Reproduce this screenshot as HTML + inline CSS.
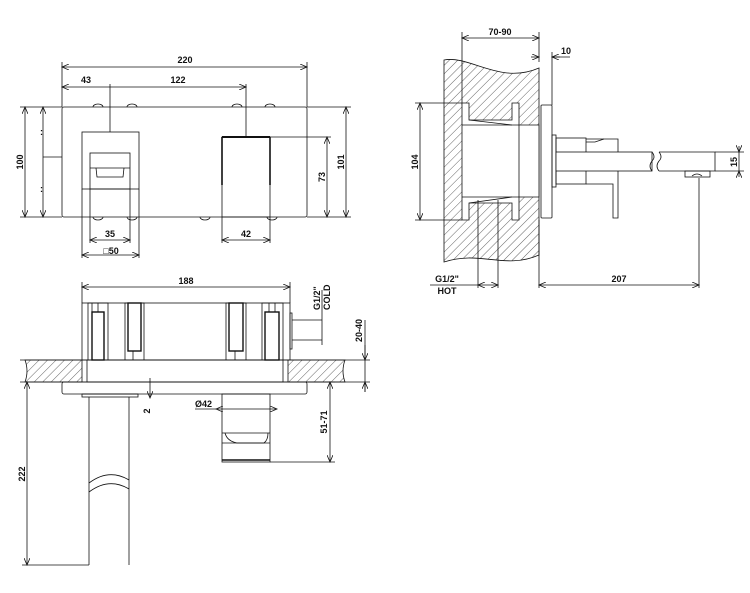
<!DOCTYPE html>
<html><head><style>
html,body{margin:0;padding:0;background:#fff;}
svg{display:block;}
text{font-family:"Liberation Sans",sans-serif;font-weight:bold;font-size:9px;fill:#111;}
</style></head><body>
<svg width="750" height="593" viewBox="0 0 750 593" xmlns="http://www.w3.org/2000/svg">
<defs>
<pattern id="h" width="6" height="6" patternUnits="userSpaceOnUse" patternTransform="rotate(45)">
<line x1="0" y1="0" x2="0" y2="6" stroke="#222" stroke-width="0.7"/>
</pattern>
<marker id="a" markerWidth="8" markerHeight="6" refX="7" refY="3" orient="auto-start-reverse" markerUnits="userSpaceOnUse">
<path d="M0,0 L7,3 L0,6" fill="none" stroke="#111" stroke-width="0.8"/>
</marker>
</defs>
<g fill="none" stroke="#111" stroke-width="0.8">
<!-- ===== TOP LEFT FRONT VIEW ===== -->
<line x1="62" y1="67" x2="307" y2="67" marker-start="url(#a)" marker-end="url(#a)"/>
<line x1="62" y1="62" x2="62" y2="107"/><line x1="307" y1="62" x2="307" y2="107"/>
<line x1="62" y1="87" x2="246" y2="87" marker-start="url(#a)" marker-end="url(#a)"/>
<line x1="110" y1="84" x2="110" y2="132"/><line x1="246" y1="84" x2="246" y2="137"/>
<rect x="62" y="107" width="245" height="110" rx="2"/>
<path d="M93,107 a5,3 0 0 1 10,0 M127,107 a5,3 0 0 1 10,0 M232,107 a5,3 0 0 1 10,0 M265,107 a5,3 0 0 1 10,0"/>
<path d="M93,217 a5,3 0 0 0 10,0 M127,217 a5,3 0 0 0 10,0 M200,217 a5,3 0 0 0 10,0 M267,217 a5,3 0 0 0 10,0"/>
<rect x="82" y="132" width="57" height="57"/>
<rect x="90" y="153" width="40" height="36"/>
<line x1="90" y1="168" x2="130" y2="168"/>
<path d="M96,168 L97,177 L123,177 L124,168"/>
<line x1="82" y1="189" x2="82" y2="258"/><line x1="139" y1="189" x2="139" y2="258"/>
<line x1="90" y1="189" x2="90" y2="243"/><line x1="130" y1="189" x2="130" y2="243"/>
<line x1="90" y1="240" x2="130" y2="240" marker-start="url(#a)" marker-end="url(#a)"/>
<line x1="82" y1="255" x2="139" y2="255" marker-start="url(#a)" marker-end="url(#a)"/>
<rect x="222" y="137" width="48" height="80"/>
<line x1="222" y1="137" x2="270" y2="137" stroke-width="2"/>
<line x1="222" y1="137" x2="222" y2="185" stroke-width="1.6"/><line x1="270" y1="137" x2="270" y2="185" stroke-width="1.6"/>
<line x1="270" y1="137" x2="331" y2="137"/><line x1="307" y1="217" x2="351" y2="217"/>
<line x1="327" y1="137" x2="327" y2="217" marker-start="url(#a)" marker-end="url(#a)"/>
<line x1="307" y1="107" x2="351" y2="107"/>
<line x1="346" y1="107" x2="346" y2="217" marker-start="url(#a)" marker-end="url(#a)"/>
<line x1="222" y1="217" x2="222" y2="243"/><line x1="270" y1="217" x2="270" y2="243"/>
<line x1="222" y1="240" x2="270" y2="240" marker-start="url(#a)" marker-end="url(#a)"/>
<line x1="20" y1="107" x2="62" y2="107"/><line x1="20" y1="217" x2="62" y2="217"/>
<line x1="25" y1="107" x2="25" y2="217" marker-start="url(#a)" marker-end="url(#a)"/>
<line x1="43" y1="107" x2="43" y2="217" marker-start="url(#a)" marker-end="url(#a)"/>
<line x1="43" y1="157" x2="62" y2="157"/>
<!-- ===== TOP RIGHT SIDE VIEW ===== -->
<line x1="462" y1="38" x2="539" y2="38" marker-start="url(#a)" marker-end="url(#a)"/>
<line x1="462" y1="32" x2="462" y2="105"/><line x1="539" y1="32" x2="539" y2="62"/>
<line x1="531" y1="57" x2="539" y2="57" marker-end="url(#a)"/><line x1="560" y1="57" x2="552" y2="57" marker-end="url(#a)"/>
<line x1="552" y1="57" x2="570" y2="57"/><line x1="552" y1="52" x2="552" y2="105"/>
<path d="M444,60 C470,55 500,85 539,68 L539,255 C505,270 480,250 444,262 Z" fill="url(#h)"/>
<path d="M462,103 L469,103 L469,120 L512,120 L512,103 L519,103 L519,125 L539,125 L539,197 L519,197 L519,220 L512,220 L512,203 L469,203 L469,220 L462,220 Z" fill="#fff"/>
<line x1="462" y1="125" x2="519" y2="125"/><line x1="462" y1="197" x2="519" y2="197"/>
<line x1="519" y1="125" x2="519" y2="197"/>
<line x1="469" y1="120" x2="512" y2="125"/><line x1="469" y1="203" x2="512" y2="197"/>
<rect x="541" y="105" width="11" height="113" rx="1"/>
<rect x="552" y="135" width="4" height="52"/>
<rect x="556" y="138" width="30" height="46"/>
<path d="M586,139 L604,139 L618,139 L618,218 L613,218 L613,184 L586,184"/>
<path d="M586,142 L595,142 L604,139"/>
<rect x="556" y="152" width="96" height="19" fill="#fff"/>
<path d="M652,152 q4,5 0,9 q-4,5 0,10 M659,152 q4,5 0,9 q-4,5 0,10"/>
<path d="M659,152 L715,152 L715,171 L659,171"/>
<rect x="685" y="171" width="25" height="6"/>
<path d="M692,176 q5,-4 10,0"/>
<line x1="715" y1="152" x2="744" y2="152"/><line x1="715" y1="171" x2="744" y2="171"/>
<line x1="739" y1="146" x2="739" y2="152" marker-end="url(#a)"/><line x1="739" y1="177" x2="739" y2="171" marker-end="url(#a)"/>
<line x1="739" y1="152" x2="739" y2="171"/>
<line x1="415" y1="103" x2="462" y2="103"/><line x1="415" y1="220" x2="462" y2="220"/>
<line x1="420" y1="103" x2="420" y2="220" marker-start="url(#a)" marker-end="url(#a)"/>
<line x1="478" y1="200" x2="478" y2="288"/><line x1="498" y1="200" x2="498" y2="288"/>
<line x1="430" y1="285" x2="478" y2="285"/>
<line x1="478" y1="285" x2="498" y2="285" marker-start="url(#a)" marker-end="url(#a)"/>
<line x1="539" y1="220" x2="539" y2="288"/><line x1="699" y1="178" x2="699" y2="288"/>
<line x1="539" y1="285" x2="699" y2="285" marker-start="url(#a)" marker-end="url(#a)"/>
<!-- ===== BOTTOM PLAN VIEW ===== -->
<line x1="82" y1="287" x2="290" y2="287" marker-start="url(#a)" marker-end="url(#a)"/>
<line x1="82" y1="282" x2="82" y2="303"/><line x1="290" y1="282" x2="290" y2="303"/>
<path d="M25,360 L82,360 L82,382 L25,382 q4,-11 0,-22 Z" fill="url(#h)"/>
<path d="M288,360 L345,360 q-4,11 0,22 L288,382 Z" fill="url(#h)"/>
<line x1="20" y1="360" x2="370" y2="360"/><line x1="20" y1="382" x2="370" y2="382"/>
<rect x="82" y="303" width="208" height="57"/>
<rect x="87" y="360" width="196" height="22"/>
<rect x="88" y="303" width="20" height="57"/><rect x="92" y="312" width="12" height="48" stroke-width="1.4"/>
<line x1="92" y1="303" x2="92" y2="312"/><line x1="98" y1="303" x2="98" y2="312"/>
<rect x="125" y="303" width="19" height="57"/><rect x="128" y="303" width="13" height="48" stroke-width="1.4"/>
<line x1="133" y1="351" x2="133" y2="360"/>
<rect x="226" y="303" width="20" height="57"/><rect x="229" y="303" width="14" height="48" stroke-width="1.4"/>
<line x1="235" y1="351" x2="235" y2="360"/>
<rect x="262" y="303" width="21" height="57"/><rect x="265" y="312" width="14" height="48" stroke-width="1.4"/>
<line x1="269" y1="303" x2="269" y2="312"/><line x1="275" y1="303" x2="275" y2="312"/>
<rect x="290" y="313" width="2" height="36"/>
<line x1="292" y1="320" x2="322" y2="320"/><line x1="292" y1="340" x2="322" y2="340"/>
<line x1="322" y1="290" x2="322" y2="345"/>
<line x1="365" y1="345" x2="365" y2="360" marker-end="url(#a)"/><line x1="365" y1="392" x2="365" y2="382" marker-end="url(#a)"/>
<line x1="365" y1="320" x2="365" y2="392"/>
<rect x="62" y="382" width="245" height="12" rx="2"/>
<line x1="82" y1="394" x2="138" y2="394"/><rect x="82" y="394" width="56" height="3"/>
<line x1="150" y1="378" x2="150" y2="398" marker-end="url(#a)"/>
<line x1="89" y1="397" x2="89" y2="565"/><line x1="129" y1="397" x2="129" y2="565"/>
<path d="M89,483 q20,-15 40,-3 M89,492 q20,-15 40,-3"/>
<line x1="22" y1="565" x2="89" y2="565"/>
<line x1="27" y1="382" x2="27" y2="565" marker-start="url(#a)" marker-end="url(#a)"/>
<rect x="222" y="394" width="48" height="68"/>
<line x1="222" y1="433" x2="270" y2="433"/>
<path d="M225,433 q2,8 12,10 L264,443 q4,-3 4,-10"/>
<line x1="222" y1="443" x2="270" y2="443"/>
<line x1="222" y1="460" x2="270" y2="460" stroke-width="1.5"/>
<line x1="195" y1="409" x2="216" y2="409"/>
<line x1="216" y1="409" x2="277" y2="409" marker-start="url(#a)" marker-end="url(#a)"/>
<line x1="307" y1="382" x2="335" y2="382"/><line x1="270" y1="462" x2="335" y2="462"/>
<line x1="330" y1="382" x2="330" y2="462" marker-start="url(#a)" marker-end="url(#a)"/>
</g>
<g>
<text x="185" y="63" text-anchor="middle">220</text>
<text x="86" y="83" text-anchor="middle">43</text>
<text x="178" y="83" text-anchor="middle">122</text>
<text x="110" y="237" text-anchor="middle">35</text>
<text x="246" y="237" text-anchor="middle">42</text>
<text x="111" y="254" text-anchor="middle">□50</text>
<text transform="translate(23,162) rotate(-90)" text-anchor="middle">100</text>
<text transform="translate(325,177) rotate(-90)" text-anchor="middle">73</text>
<text transform="translate(344,162) rotate(-90)" text-anchor="middle">101</text>
<text x="40" y="135" font-size="7">:</text><text x="40" y="192" font-size="7">:</text>
<text x="500" y="35" text-anchor="middle">70-90</text>
<text x="566" y="54" text-anchor="middle">10</text>
<text transform="translate(418,162) rotate(-90)" text-anchor="middle">104</text>
<text transform="translate(737,162) rotate(-90)" text-anchor="middle">15</text>
<text x="447" y="282" text-anchor="middle">G1/2"</text>
<text x="447" y="294" text-anchor="middle">HOT</text>
<text x="619" y="282" text-anchor="middle">207</text>
<text x="186" y="284" text-anchor="middle" font-size="8">188</text>
<text transform="translate(320,310) rotate(-90)">G1/2"</text>
<text transform="translate(330,310) rotate(-90)">COLD</text>
<text transform="translate(362,342) rotate(-90)">20-40</text>
<text transform="translate(150,411) rotate(-90)" text-anchor="middle">2</text>
<text x="195" y="407">Ø42</text>
<text transform="translate(327,422) rotate(-90)" text-anchor="middle">51-71</text>
<text transform="translate(25,474) rotate(-90)" text-anchor="middle">222</text>
</g>
</svg>
</body></html>
